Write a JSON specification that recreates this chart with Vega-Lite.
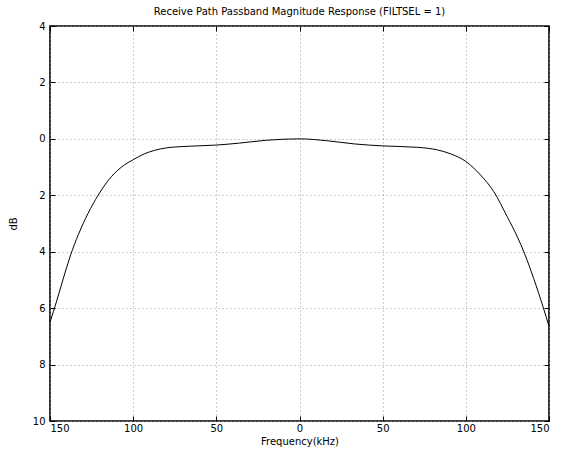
{
  "$schema": "https://vega.github.io/schema/vega-lite/v6.json",
  "autosize": {"type": "none"},
  "width": 499,
  "height": 395,
  "padding": {"left": 50, "top": 26, "right": 19, "bottom": 35},
  "background": "white",
  "config": {
    "font": "DejaVu Sans",
    "view": {"stroke": "black", "strokeWidth": 1.6},
    "axis": {
      "domain": false,
      "grid": true,
      "gridColor": "#999",
      "gridDash": [1, 3],
      "gridWidth": 1,
      "gridOpacity": 1,
      "tickColor": "black",
      "tickSize": -5,
      "tickWidth": 1,
      "labelFontSize": 10,
      "labelColor": "black",
      "titleFontSize": 10,
      "titleFontWeight": "normal",
      "titleColor": "black"
    }
  },
  "title": {
    "text": "Receive Path Passband Magnitude Response (FILTSEL = 1)",
    "fontSize": 10,
    "fontWeight": "normal",
    "color": "black",
    "offset": 4
  },
  "data": {
    "values": [
      {"f": -150, "db": -6.5},
      {"f": -146, "db": -5.75},
      {"f": -141, "db": -4.75},
      {"f": -137.5, "db": -4.1},
      {"f": -133, "db": -3.4},
      {"f": -127.1, "db": -2.64},
      {"f": -121.1, "db": -2.0},
      {"f": -113.1, "db": -1.34},
      {"f": -105.2, "db": -0.92},
      {"f": -100, "db": -0.74},
      {"f": -93.2, "db": -0.53},
      {"f": -87.3, "db": -0.41},
      {"f": -80, "db": -0.32},
      {"f": -66, "db": -0.26},
      {"f": -50, "db": -0.22},
      {"f": -36, "db": -0.15},
      {"f": -20, "db": -0.05},
      {"f": 0, "db": 0.0},
      {"f": 17, "db": -0.07},
      {"f": 33, "db": -0.18},
      {"f": 50, "db": -0.25},
      {"f": 71, "db": -0.3},
      {"f": 82.8, "db": -0.39},
      {"f": 90.8, "db": -0.53},
      {"f": 100, "db": -0.8},
      {"f": 108.8, "db": -1.28},
      {"f": 116.8, "db": -1.87},
      {"f": 124.8, "db": -2.75},
      {"f": 130.8, "db": -3.45},
      {"f": 135.2, "db": -4.05},
      {"f": 140.8, "db": -4.95},
      {"f": 146.4, "db": -5.95},
      {"f": 150, "db": -6.65}
    ]
  },
  "layer": [
    {
      "mark": {"type": "line", "color": "black", "strokeWidth": 1, "interpolate": "monotone"},
      "encoding": {
        "x": {
          "field": "f", "type": "quantitative",
          "scale": {"domain": [-150, 150], "nice": false, "zero": false},
          "axis": {"values": [-150, -100, -50, 0, 50, 100, 150], "title": "Frequency(kHz)", "labelExpr": "format(abs(datum.value), 'd')", "labelPadding": 7, "titlePadding": 3}
        },
        "y": {
          "field": "db", "type": "quantitative",
          "scale": {"domain": [-10, 4], "nice": false, "zero": false},
          "axis": {"values": [-10, -8, -6, -4, -2, 0, 2, 4], "title": "dB", "labelExpr": "format(abs(datum.value), 'd')", "labelPadding": 10, "titlePadding": 14}
        }
      }
    },
    {
      "mark": {"type": "line", "opacity": 0},
      "encoding": {
        "x": {
          "field": "f", "type": "quantitative",
          "scale": {"domain": [-150, 150], "nice": false, "zero": false},
          "axis": {"orient": "top", "values": [-150, -100, -50, 0, 50, 100, 150], "labels": false, "grid": false, "title": null}
        },
        "y": {
          "field": "db", "type": "quantitative",
          "scale": {"domain": [-10, 4], "nice": false, "zero": false},
          "axis": {"orient": "right", "values": [-10, -8, -6, -4, -2, 0, 2, 4], "labels": false, "grid": false, "title": null}
        }
      }
    }
  ],
  "resolve": {"scale": {"x": "independent", "y": "independent"}}
}
